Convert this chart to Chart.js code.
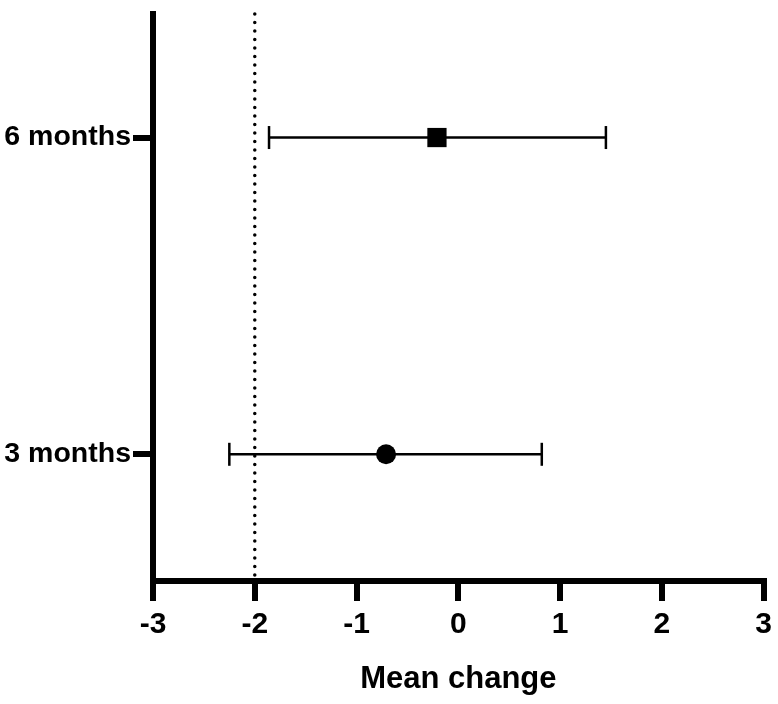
<!DOCTYPE html>
<html>
<head>
<meta charset="utf-8">
<script src="https://cdn.jsdelivr.net/npm/chart.js@4/dist/chart.umd.min.js"></script>
<style>
  html, body { margin: 0; padding: 0; background: #ffffff; }
  #wrap { width: 778px; height: 704px; position: relative; }
</style>
</head>
<body>
<div id="wrap"><canvas id="c" width="778" height="704"></canvas></div>
<script>
// ---- data ----
const categories = ['3 months', '6 months'];
const categoryPos = [1, 2];
const means = [-0.71, -0.21];
const lower = [-2.25, -1.86];
const upper = [0.82, 1.45];
const markerStyles = ['circle', 'rect'];
const xTicks = [-3, -2, -1, 0, 1, 2, 3];
const referenceValue = -2;
const xTitle = 'Mean change';

const Y_MIN = 0.60, Y_MAX = 2.39;
const FONT = "'Liberation Sans', Arial, Helvetica, sans-serif";

const datasets = [];
// markers (drawn on top: dataset 0 is drawn last)
datasets.push({
  type: 'scatter',
  data: categoryPos.map((y, i) => ({ x: means[i], y })),
  pointStyle: markerStyles,
  pointRadius: markerStyles.map(s => s === 'rect' ? 13.6 : 10),
  pointBackgroundColor: '#000',
  pointBorderColor: '#000',
  pointBorderWidth: 0,
  clip: false
});
// error bars
categoryPos.forEach((y, i) => {
  datasets.push({
    type: 'line',
    data: [{ x: lower[i], y }, { x: upper[i], y }],
    borderColor: '#000',
    borderWidth: 2.5,
    pointStyle: 'line',
    pointRotation: 90,
    pointRadius: 11.5,
    pointBorderWidth: 2.5,
    pointBorderColor: '#000',
    fill: false,
    clip: false
  });
});
// dotted reference line
datasets.push({
  type: 'line',
  data: [{ x: referenceValue, y: Y_MAX }, { x: referenceValue, y: Y_MIN }],
  borderColor: '#000',
  borderWidth: 3.5,
  borderDash: [0.1, 8.4],
  borderCapStyle: 'round',
  pointRadius: 0,
  fill: false,
  clip: false
});

new Chart(document.getElementById('c'), {
  type: 'scatter',
  data: { datasets },
  options: {
    responsive: false,
    animation: false,
    events: [],
    layout: { padding: { top: 3, right: 10, left: 0, bottom: 0 } },
    plugins: { legend: { display: false }, tooltip: { enabled: false } },
    scales: {
      x: {
        type: 'linear',
        min: xTicks[0],
        max: xTicks[xTicks.length - 1],
        afterBuildTicks: s => { s.ticks = xTicks.map(v => ({ value: v })); },
        afterFit: s => { s.height = 123; },
        border: { display: true, color: '#000', width: 6 },
        grid: { display: true, drawOnChartArea: false, drawTicks: true, tickLength: 20, tickWidth: 6, color: '#000', lineWidth: 6 },
        ticks: { color: '#000', padding: 6, font: { family: FONT, size: 30, weight: 'bold' } },
        title: { display: true, text: xTitle, color: '#000', padding: { top: 8, bottom: 6 }, font: { family: FONT, size: 31, weight: 'bold' } }
      },
      y: {
        type: 'linear',
        min: Y_MIN,
        max: Y_MAX,
        afterBuildTicks: s => { s.ticks = categoryPos.map(v => ({ value: v })); },
        afterFit: s => { s.width = 153; },
        border: { display: true, color: '#000', width: 6 },
        grid: { display: true, drawOnChartArea: false, drawTicks: true, tickLength: 20, tickWidth: 6, color: '#000', lineWidth: 6 },
        ticks: {
          color: '#000', padding: 2,
          font: { family: FONT, size: 28.5, weight: 'bold', lineHeight: 0.1 },
          callback: v => categories[categoryPos.indexOf(v)]
        }
      }
    }
  }
});
</script>
</body>
</html>
